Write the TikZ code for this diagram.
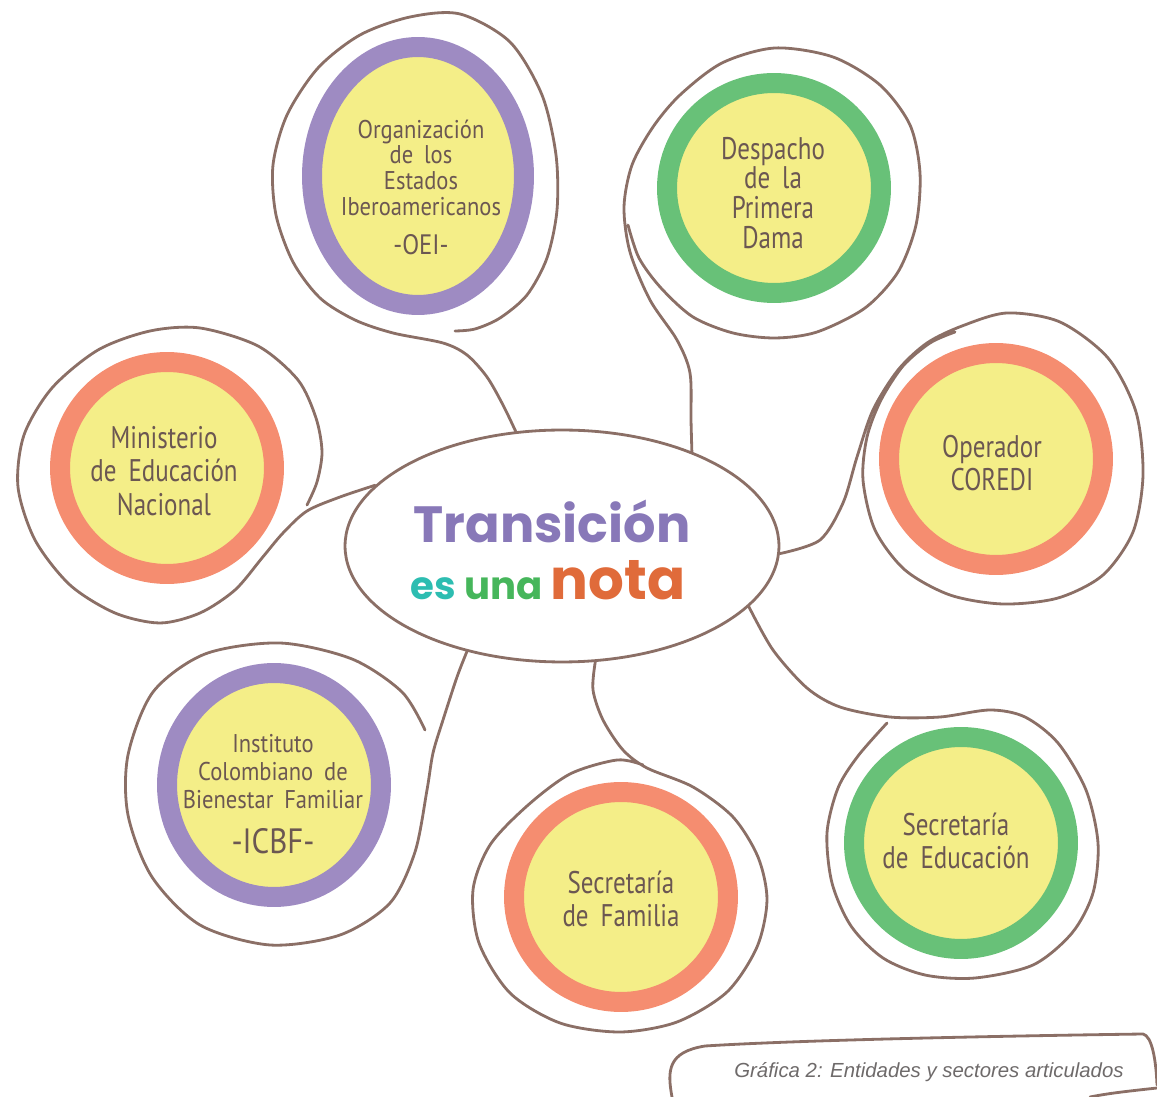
\documentclass[tikz,border=0pt]{standalone}
\usepackage{fontspec}
\setmainfont{PT Sans}
\newfontfamily\handfont{PT Sans}[FakeStretch=0.8,WordSpace=1.8]
\newfontfamily\handfontw{PT Sans}[FakeStretch=0.88,WordSpace=1.8]
\newfontfamily\titlefont{Poppins}
\newfontfamily\capfont{Liberation Sans}
\usetikzlibrary{shapes.geometric}
\definecolor{brownL}{HTML}{8B6F66}
\definecolor{textC}{HTML}{6B5752}
\definecolor{purpleR}{HTML}{9E8BC2}
\definecolor{greenR}{HTML}{68C178}
\definecolor{orangeR}{HTML}{F58D70}
\definecolor{yellowF}{HTML}{F4EE88}
\definecolor{titleP}{HTML}{8878B8}
\definecolor{tealT}{HTML}{2DBDB1}
\definecolor{greenT}{HTML}{46B65B}
\definecolor{orangeT}{HTML}{E06B3A}
\definecolor{capC}{HTML}{6E6A6A}
\begin{document}
\begin{tikzpicture}[x=0.02cm,y=-0.02cm,
  outline/.style={draw=brownL, line width=1.6pt, line cap=round, line join=round},
  ring/.style={ellipse, inner sep=0pt, outer sep=0pt, fill=yellowF, line width=0.4cm},
  hand/.style={text=textC, align=center, inner sep=0pt},
  bigh/.style={hand, font={\handfont\fontsize{17.8}{18.9}\selectfont}},
]
\useasboundingbox (0,0) rectangle (1157,1097);

% rings
\node[ring, draw=purpleR, minimum width=4.24cm, minimum height=5.16cm] (oei) at (418,176) {};
\node[ring, draw=greenR, minimum width=4.28cm, minimum height=4.20cm] (desp) at (774,188) {};
\node[ring, draw=orangeR, minimum width=4.28cm, minimum height=4.24cm] (men) at (167,468) {};
\node[ring, draw=orangeR, minimum width=4.28cm, minimum height=4.24cm] (cor) at (996,459) {};
\node[ring, draw=purpleR, minimum width=4.28cm, minimum height=4.48cm] (icbf) at (274,785) {};
\node[ring, draw=orangeR, minimum width=4.28cm, minimum height=4.20cm] (sfam) at (621,897) {};
\node[ring, draw=greenR, minimum width=4.28cm, minimum height=4.24cm] (sedu) at (961,843) {};

% central ellipse
\node[ellipse, draw=brownL, line width=1.6pt, minimum width=8.68cm, minimum height=4.64cm, inner sep=0pt] (c) at (562,546) {};

% bubble outlines with tails
\draw[outline] plot[smooth, tension=0.5] coordinates {(c.112) (503,405) (487,377) (467,355) (443,343) (393,333) (355,320) (320,298) (293,262) (276,215) (273,165) (287,115) (318,68) (360,35) (410,17) (460,14) (510,42) (542,95) (556,155) (557,210) (547,258) (527,295) (500,318) (475,329) (455,331)};
\draw[outline] plot[smooth, tension=0.5] coordinates {(c.36) (691,420) (690,373) (677,340) (650,300) (630,252) (624,207) (632,165) (653,127) (680,95) (722,63) (775,48) (833,57) (880,85) (910,125) (920,173) (916,225) (898,272) (865,308) (817,332) (775,338) (733,333) (693,317) (661,288) (639,258) (628,225)};
\draw[outline] plot[smooth, tension=0.5] coordinates {(c.162) (340,497) (307,511) (283,533) (262,558) (235,590) (200,613) (160,623) (115,613) (70,585) (35,540) (18,487) (24,435) (52,388) (98,350) (150,331) (200,328) (258,346) (298,380) (316,418) (322,452) (317,482) (307,505)};
\draw[outline] plot[smooth, tension=0.5] coordinates {(c.-2) (820,540) (843,503) (857,457) (873,410) (898,370) (927,343) (962,326) (1007,313) (1060,322) (1108,358) (1136,412) (1143,475) (1133,532) (1103,575) (1058,598) (1003,604) (950,595) (905,570) (875,530) (863,480) (867,437) (881,400) (903,366) (930,343) (955,332)};
\draw[outline] plot[smooth, tension=0.5] coordinates {(c.228) (457,677) (443,720) (433,753) (427,790) (415,852) (390,903) (340,935) (270,945) (200,925) (152,877) (128,815) (128,755) (153,692) (205,654) (280,643) (352,659) (402,692) (425,730)};
\draw[outline] plot[smooth, tension=0.5] coordinates {(c.286) (593,690) (603,720) (623,750) (647,768) (693,787) (733,817) (758,857) (767,900) (757,947) (727,992) (677,1022) (620,1032) (560,1023) (510,993) (479,943) (473,890) (490,845) (527,806) (570,774) (617,760) (643,765)};
\draw[outline] plot[smooth, tension=0.5] coordinates {(c.-18) (773,650) (807,688) (840,707) (890,717) (940,717) (990,710) (1025,717) (1058,743) (1086,790) (1098,843) (1093,893) (1072,933) (1033,965) (975,978) (925,975) (883,958) (851,926) (832,883) (827,833) (838,788) (858,756) (887,723)};

% texts in bubbles
\node[hand, font={\handfontw\fontsize{14.6}{14.75}\selectfont}] (toei) at (421,187)
  {Organización\\de los\\Estados\\Iberoamericanos\\[7pt]{\fontsize{16}{16}\selectfont -OEI-}};
\node[hand, font={\handfont\fontsize{17.8}{17}\selectfont}] (tdesp) at (773,193)
  {Despacho\\de la\\Primera\\Dama};
\node[bigh] (tmen) at (164,471) {Ministerio\\de Educación\\Nacional};
\node[bigh] (tcor) at (992,463) {Operador\\COREDI};
\node[hand, font={\handfontw\fontsize{14.6}{15.9}\selectfont}] (ticbf) at (273,794)
  {Instituto\\Colombiano de\\Bienestar Familiar\\[10pt]{\fontsize{20}{20}\selectfont -ICBF-}};
\node[bigh] (tsfam) at (621,899) {Secretaría\\de Familia};
\node[bigh] (tsedu) at (956,841) {Secretaría\\de Educación};

% title
\node[anchor=base, inner sep=0pt, text=titleP, font={\titlefont\bfseries\fontsize{29}{30}\selectfont}] (t1) at (552,543) {Transición};
\node[anchor=base, inner sep=0pt, font={\titlefont\bfseries\fontsize{22}{24}\selectfont}] (t2) at (548,600)
  {\textcolor{tealT}{es} \textcolor{greenT}{una} {\fontsize{32}{34}\selectfont\textcolor{orangeT}{nota}}};

% caption frame
\node[anchor=base, inner sep=0pt, text=capC, font={\capfont\itshape\fontsize{11.6}{13}\selectfont}] (cap) at (929,1077) {Gráfica 2: Entidades y sectores articulados};
\draw[outline] (672,1097) .. controls (667,1070) and (668,1052) .. (705,1046) .. controls (800,1040) and (1000,1036) .. (1143,1034) .. controls (1152,1036) and (1156,1060) .. (1157,1085);
\draw[outline] (1157,1088) .. controls (1130,1091) and (1110,1093) .. (1090,1097);
\end{tikzpicture}
\end{document}
